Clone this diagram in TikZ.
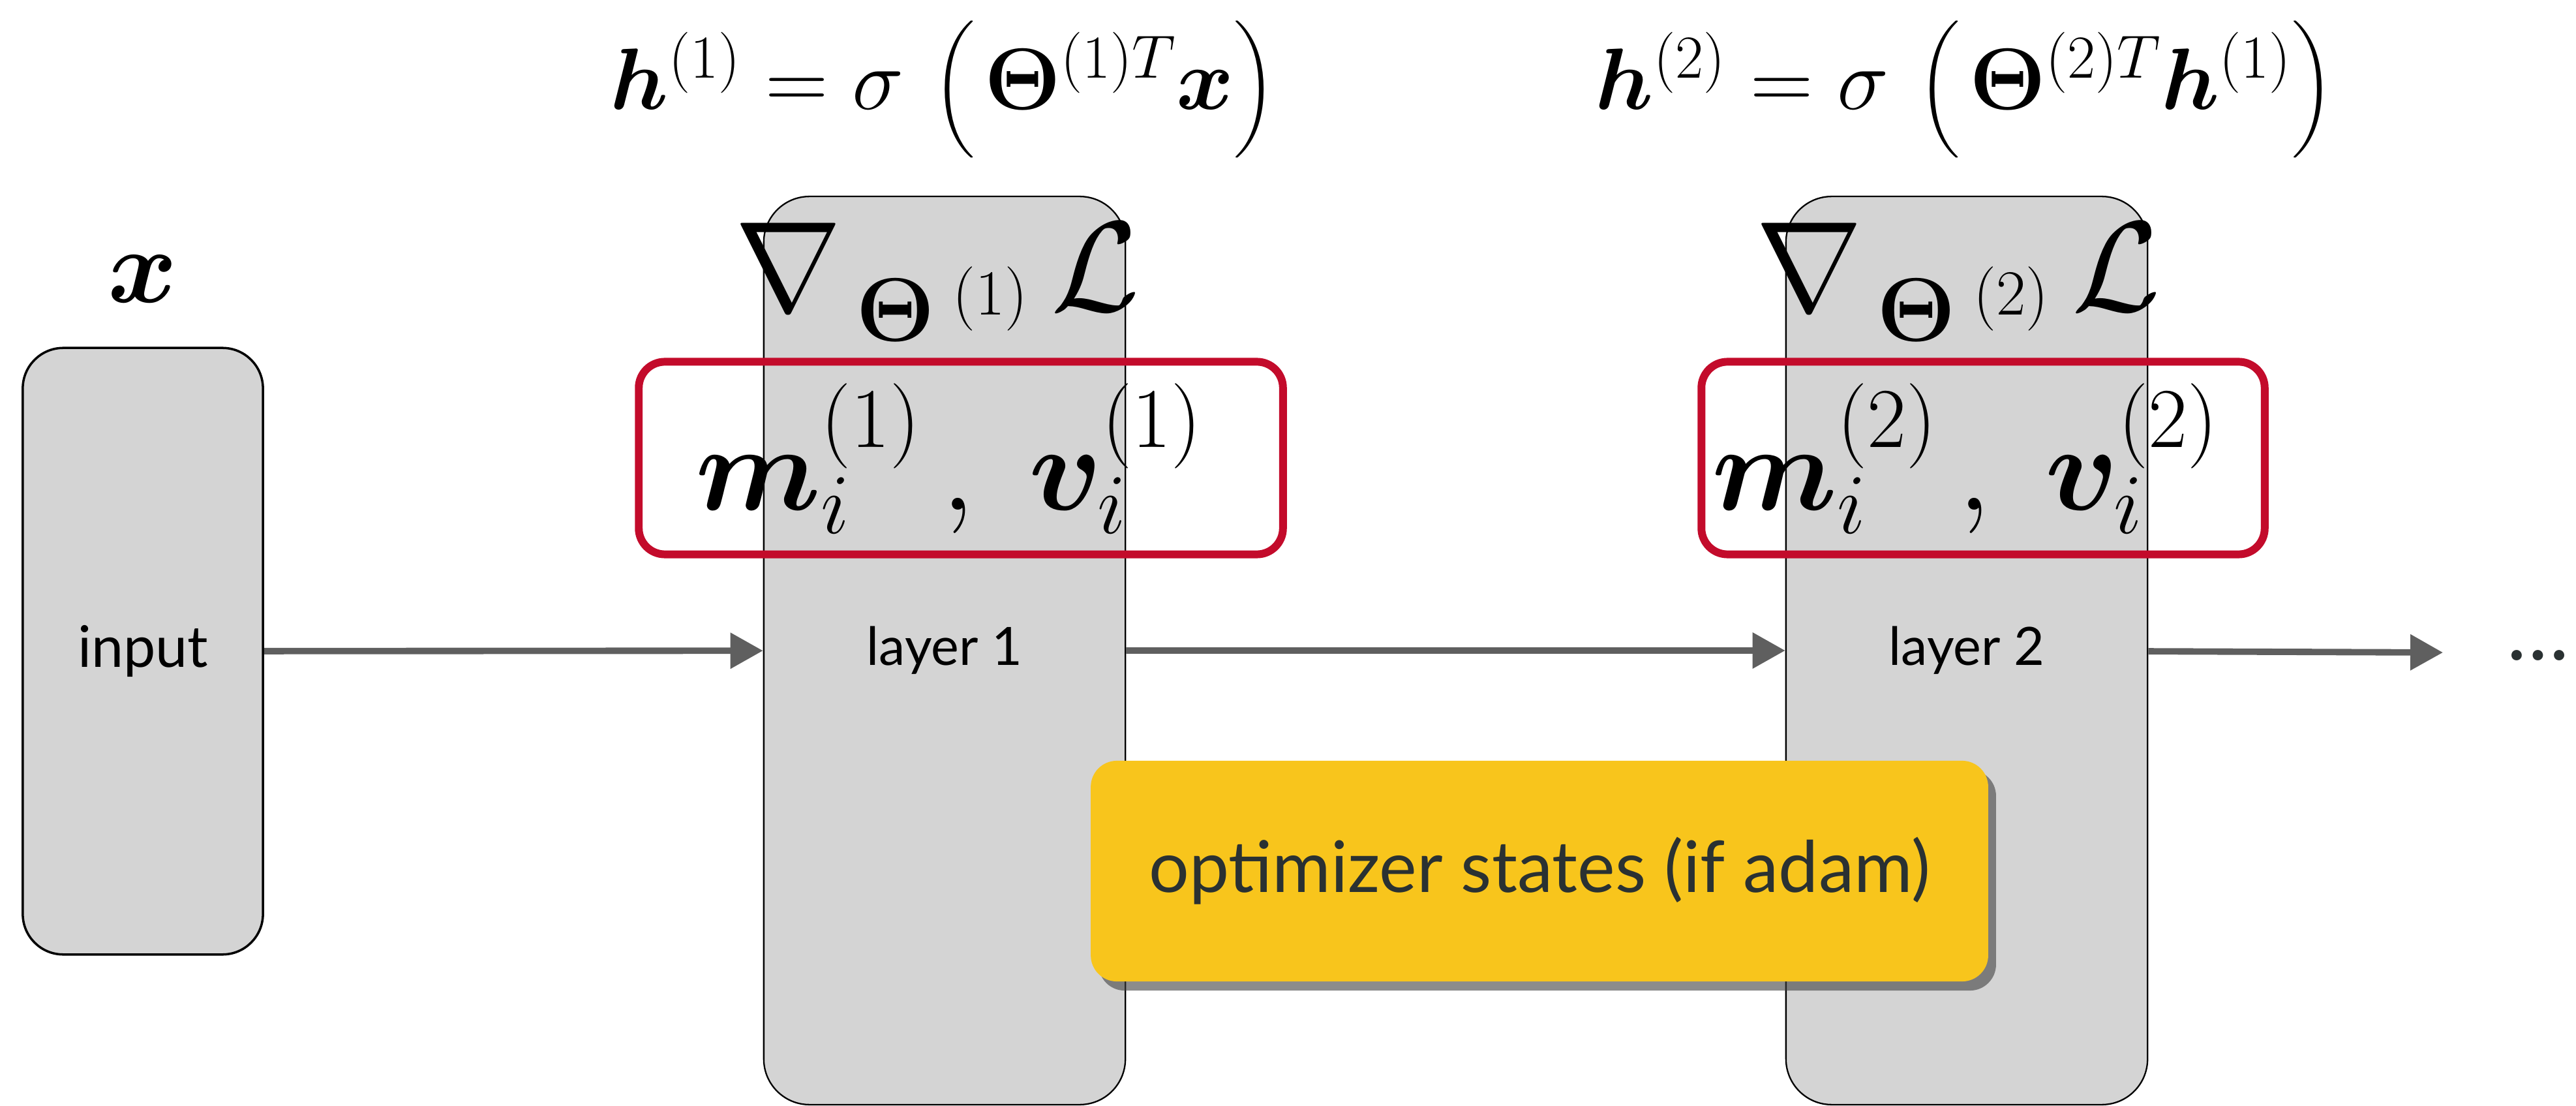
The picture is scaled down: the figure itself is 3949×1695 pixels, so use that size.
\documentclass[tikz,border=0pt]{standalone}
\usepackage{fix-cm}
\usepackage{amsmath}
\usepackage{bm}
\usepackage[no-math]{fontspec}
\newfontfamily\labelfont{Lato}
\usetikzlibrary{arrows.meta, positioning, shadows}

\definecolor{boxgray}{HTML}{D4D4D4}
\definecolor{statered}{HTML}{C30B2B}
\definecolor{noteyellow}{HTML}{F8C51C}
\definecolor{notetext}{HTML}{2A3132}
\definecolor{arrowgray}{HTML}{5F5F5F}

% big parentheses of the layer formulas
\newcommand{\lpar}{\mathopen{\mbox{\fontsize{35}{40}\selectfont$\Bigl($}}}
\newcommand{\rpar}{\mathclose{\mbox{\fontsize{35}{40}\selectfont$\Bigr)$}}}

\begin{document}
\begin{tikzpicture}[
    x=0.01cm, y=-0.01cm,
    every node/.style={inner sep=0pt},
    inputbox/.style={draw, line width=1pt, fill=boxgray, rounded corners=0.62cm, minimum width=3.68cm, minimum height=9.29cm, font=\labelfont\fontsize{25}{30}\selectfont},
    layerbox/.style={draw, line width=0.65pt, fill=boxgray, rounded corners=0.7cm, minimum width=5.54cm, minimum height=13.91cm, font=\labelfont\fontsize{23}{28}\selectfont},
    statebox/.style={draw=statered, line width=3.4pt, rounded corners=0.4cm, minimum height=2.95cm},
    statetext/.style={anchor=base, font=\fontsize{53}{60}\selectfont},
    notebox/.style={fill=noteyellow, rounded corners=0.4cm, minimum width=13.75cm, minimum height=3.38cm, text=notetext, font=\labelfont\fontsize{31}{36}\selectfont, drop shadow={shadow xshift=0.12cm, shadow yshift=-0.14cm, fill=black!75, opacity=0.6}},
    formula/.style={anchor=base, font=\fontsize{38}{46}\selectfont},
    grad/.style={anchor=base, font=\fontsize{56}{64}\selectfont},
    arrow/.style={-{Triangle[length=0.5cm, width=0.53cm]}, line width=2.8pt, draw=arrowgray}
]
    \useasboundingbox (0,0) rectangle (3949,1695);

    % boxes
    \node[inputbox] (input)  at (219,998)   {input};
    \node[layerbox] (layer1) at (1448,997)  {layer 1};
    \node[layerbox] (layer2) at (3015,997)  {layer 2};
    \coordinate (next) at (3745,1000);
    \node[text=notetext, font=\labelfont\fontsize{36}{40}\selectfont] (dots) at (3891,1005) {\ldots};

    % labels above
    \node[font=\fontsize{46}{52}\selectfont] (xlabel) at (219,428) {$\bm{x}$};
    \node[formula] (h1) at (1446,168) {$\bm{h}^{(1)} = \sigma\mkern6mu\lpar\mkern2mu\bm{\Theta}^{(1)T}\bm{x}\rpar$};
    \node[formula] (h2) at (3012,168) {$\bm{h}^{(2)} = \sigma\mkern6mu\lpar\mkern2mu\bm{\Theta}^{(2)T}\bm{h}^{(1)}\rpar$};
    \node[grad] (grad1) at (1437,477) {$\nabla\mkern2mu_{\bm{\Theta}^{\;(1)}}\,\mathcal{L}$};
    \node[grad] (grad2) at (3002,477) {$\nabla\mkern2mu_{\bm{\Theta}^{\;(2)}}\,\mathcal{L}$};

    % optimizer states
    \node[statebox, minimum width=9.87cm] (state1) at (1473,702) {};
    \node[statebox, minimum width=8.63cm] (state2) at (3040,702) {};
    \node[statetext] (mv1) at (1455,782) {$\bm{m}_i^{(1)}\,,\;\bm{v}_i^{(1)}$};
    \node[statetext] (mv2) at (3013,782) {$\bm{m}_i^{(2)}\,,\;\bm{v}_i^{(2)}$};

    \draw[arrow] (input) -- (layer1);
    \draw[arrow] (layer1) -- (layer2);
    \draw[arrow] (layer2) -- (next);

    \node[notebox] (note) at (2360,1335) {optimizer states (if adam)};
\end{tikzpicture}
\end{document}
